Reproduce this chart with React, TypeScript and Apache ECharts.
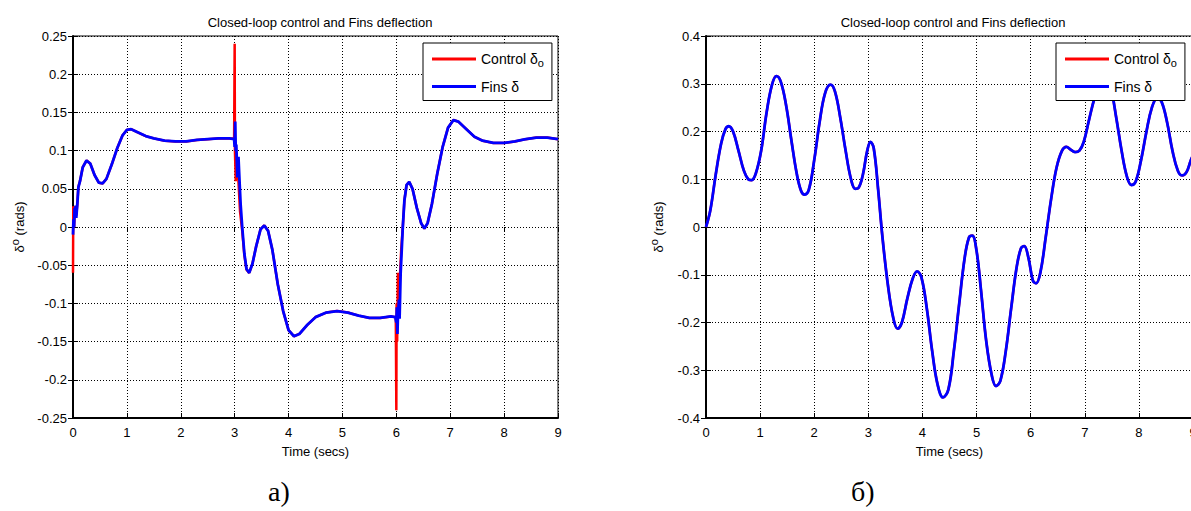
import React, { useEffect, useRef } from 'react';
import * as echarts from 'echarts';

// ---------- Data ----------
const titleText = 'Closed-loop control and Fins deflection';
const xTickValues = [0, 1, 2, 3, 4, 5, 6, 7, 8, 9];

// Panel a) Fins δ (blue)
const tFinsA = [0.0, 0.01, 0.02, 0.03, 0.04, 0.05, 0.06, 0.08, 0.1, 0.13, 0.18, 0.25, 0.32, 0.4, 0.48, 0.55, 0.62, 0.72, 0.82, 0.92, 1.0, 1.08, 1.2, 1.35, 1.5, 1.7, 1.9, 2.1, 2.3, 2.5, 2.7, 2.9, 2.99, 3.0, 3.01, 3.02, 3.03, 3.05, 3.07, 3.09, 3.11, 3.14, 3.18, 3.22, 3.27, 3.33, 3.4, 3.48, 3.55, 3.62, 3.7, 3.8, 3.9, 4.0, 4.1, 4.2, 4.35, 4.5, 4.7, 4.9, 5.1, 5.3, 5.5, 5.7, 5.9, 5.98, 6.0, 6.01, 6.02, 6.03, 6.05, 6.06, 6.07, 6.08, 6.1, 6.12, 6.15, 6.19, 6.24, 6.3, 6.38, 6.46, 6.52, 6.58, 6.66, 6.76, 6.86, 6.96, 7.06, 7.15, 7.3, 7.45, 7.6, 7.8, 8.0, 8.2, 8.4, 8.6, 8.8, 9.0];
const finsA = [-0.01, 0.01, 0.0, 0.025, 0.012, 0.028, 0.012, 0.03, 0.052, 0.06, 0.078, 0.087, 0.083, 0.068, 0.058, 0.057, 0.063, 0.082, 0.103, 0.12, 0.127, 0.128, 0.124, 0.119, 0.116, 0.113, 0.112, 0.112, 0.114, 0.115, 0.116, 0.116, 0.115, 0.105, 0.138, 0.1, 0.108, 0.065, 0.092, 0.06, 0.03, 0.0, -0.035, -0.055, -0.06, -0.048, -0.025, -0.003, 0.002, -0.005, -0.03, -0.075, -0.11, -0.135, -0.143, -0.14, -0.128, -0.118, -0.112, -0.11, -0.112, -0.116, -0.119, -0.119, -0.117, -0.118, -0.125, -0.105, -0.14, -0.115, -0.095, -0.12, -0.09, -0.06, -0.03, 0.0, 0.035, 0.055, 0.059, 0.05, 0.025, 0.005, -0.002, 0.005, 0.03, 0.07, 0.105, 0.13, 0.14, 0.138, 0.128, 0.118, 0.113, 0.11, 0.11, 0.112, 0.115, 0.117, 0.117, 0.115];

// Panel a) Control δo (red)
const tControlA = [0.0, 0.005, 0.02, 0.04, 0.06, 0.08, 0.1, 0.13, 0.18, 0.25, 0.32, 0.4, 0.48, 0.55, 0.62, 0.72, 0.82, 0.92, 1.0, 1.08, 1.2, 1.35, 1.5, 1.7, 1.9, 2.1, 2.3, 2.5, 2.7, 2.9, 2.99, 3.0, 3.005, 3.02, 3.05, 3.07, 3.1, 3.14, 3.18, 3.22, 3.27, 3.33, 3.4, 3.48, 3.55, 3.62, 3.7, 3.8, 3.9, 4.0, 4.1, 4.2, 4.35, 4.5, 4.7, 4.9, 5.1, 5.3, 5.5, 5.7, 5.9, 5.99, 6.0, 6.005, 6.015, 6.03, 6.05, 6.07, 6.09, 6.12, 6.15, 6.19, 6.24, 6.3, 6.38, 6.46, 6.52, 6.58, 6.66, 6.76, 6.86, 6.96, 7.06, 7.15, 7.3, 7.45, 7.6, 7.8, 8.0, 8.2, 8.4, 8.6, 8.8, 9.0];
const controlA = [-0.06, 0.027, 0.0, 0.027, 0.015, 0.03, 0.053, 0.06, 0.078, 0.087, 0.083, 0.068, 0.058, 0.057, 0.063, 0.082, 0.103, 0.12, 0.127, 0.128, 0.124, 0.119, 0.116, 0.113, 0.112, 0.112, 0.114, 0.115, 0.116, 0.116, 0.116, 0.24, 0.1, 0.06, 0.09, 0.06, 0.02, -0.005, -0.037, -0.056, -0.06, -0.048, -0.025, -0.003, 0.002, -0.005, -0.03, -0.075, -0.11, -0.135, -0.143, -0.14, -0.128, -0.118, -0.112, -0.11, -0.112, -0.116, -0.119, -0.119, -0.117, -0.118, -0.24, -0.1, -0.15, -0.06, -0.1, -0.06, -0.03, 0.0, 0.035, 0.055, 0.059, 0.05, 0.025, 0.005, -0.002, 0.005, 0.03, 0.07, 0.105, 0.13, 0.14, 0.138, 0.128, 0.118, 0.113, 0.11, 0.11, 0.112, 0.115, 0.117, 0.117, 0.115];

// Panel б) (Control δo and Fins δ coincide)
const tB = [0.0, 0.08, 0.18, 0.28, 0.36, 0.42, 0.5, 0.6, 0.7, 0.78, 0.84, 0.92, 1.02, 1.12, 1.22, 1.3, 1.38, 1.48, 1.58, 1.68, 1.76, 1.82, 1.9, 2.0, 2.1, 2.2, 2.3, 2.38, 2.48, 2.58, 2.68, 2.76, 2.82, 2.9, 2.98, 3.04, 3.1, 3.18, 3.26, 3.36, 3.46, 3.54, 3.62, 3.72, 3.82, 3.9, 3.98, 4.08, 4.18, 4.28, 4.38, 4.48, 4.58, 4.68, 4.78, 4.86, 4.92, 5.0, 5.08, 5.18, 5.28, 5.36, 5.44, 5.54, 5.64, 5.74, 5.82, 5.88, 5.96, 6.04, 6.1, 6.18, 6.28, 6.38, 6.48, 6.58, 6.66, 6.74, 6.82, 6.9, 6.98, 7.08, 7.18, 7.28, 7.38, 7.48, 7.58, 7.68, 7.78, 7.86, 7.94, 8.04, 8.14, 8.24, 8.34, 8.42, 8.52, 8.62, 8.72, 8.8, 8.88, 8.96, 9.0];
const finsB = [0.0, 0.035, 0.11, 0.175, 0.205, 0.211, 0.2, 0.16, 0.118, 0.1, 0.098, 0.112, 0.16, 0.24, 0.298, 0.316, 0.305, 0.255, 0.18, 0.11, 0.075, 0.068, 0.078, 0.14, 0.22, 0.28, 0.298, 0.285, 0.23, 0.16, 0.1, 0.08, 0.082, 0.11, 0.16, 0.178, 0.165, 0.08, -0.02, -0.12, -0.19, -0.213, -0.2, -0.15, -0.108, -0.093, -0.105, -0.17, -0.26, -0.33, -0.357, -0.34, -0.26, -0.16, -0.065, -0.022, -0.018, -0.05, -0.13, -0.24, -0.31, -0.333, -0.322, -0.26, -0.17, -0.085, -0.045, -0.04, -0.065, -0.112, -0.118, -0.095, -0.02, 0.06, 0.125, 0.16, 0.168, 0.162, 0.157, 0.16, 0.178, 0.225, 0.27, 0.3, 0.31, 0.29, 0.23, 0.16, 0.105, 0.088, 0.095, 0.14, 0.2, 0.25, 0.27, 0.262, 0.22, 0.16, 0.118, 0.108, 0.115, 0.14, 0.15];
const controlB = [0.0, 0.035, 0.11, 0.175, 0.205, 0.211, 0.2, 0.16, 0.118, 0.1, 0.098, 0.112, 0.16, 0.24, 0.298, 0.316, 0.305, 0.255, 0.18, 0.11, 0.075, 0.068, 0.078, 0.14, 0.22, 0.28, 0.298, 0.285, 0.23, 0.16, 0.1, 0.08, 0.082, 0.11, 0.16, 0.178, 0.165, 0.08, -0.02, -0.12, -0.19, -0.213, -0.2, -0.15, -0.108, -0.093, -0.105, -0.17, -0.26, -0.33, -0.357, -0.34, -0.26, -0.16, -0.065, -0.022, -0.018, -0.05, -0.13, -0.24, -0.31, -0.333, -0.322, -0.26, -0.17, -0.085, -0.045, -0.04, -0.065, -0.112, -0.118, -0.095, -0.02, 0.06, 0.125, 0.16, 0.168, 0.162, 0.157, 0.16, 0.178, 0.225, 0.27, 0.3, 0.31, 0.29, 0.23, 0.16, 0.105, 0.088, 0.095, 0.14, 0.2, 0.25, 0.27, 0.262, 0.22, 0.16, 0.118, 0.108, 0.115, 0.14, 0.15];

const yRangeA = { min: -0.25, max: 0.25, interval: 0.05 };
const yRangeB = { min: -0.4, max: 0.4, interval: 0.1 };

const zip = (t: number[], v: number[]) => t.map((x, i) => [x, v[i]]);

const FONT = '"Liberation Sans", Arial, sans-serif';
const SERIF = '"Liberation Serif", "Times New Roman", serif';

export default function App() {
  const ref = useRef<HTMLDivElement>(null);
  useEffect(() => {
    if (!ref.current) return;
    const chart = echarts.init(ref.current, undefined, { renderer: 'svg' });

    const grids = [
      { left: 73, top: 36, width: 485, height: 382 },
      { left: 706, top: 36, width: 487, height: 382 },
    ].map((g) => ({ ...g, show: true, borderColor: '#000', borderWidth: 1, backgroundColor: '#fff' }));

    const fmt = (v: number) => String(parseFloat(Number(v).toFixed(2)));

    const xBottom = (gridIndex: number) => ({
      type: 'value', gridIndex, min: xTickValues[0], max: xTickValues[xTickValues.length - 1], interval: 1,
      name: 'Time (secs)', nameLocation: 'middle', nameGap: 27,
      nameTextStyle: { fontFamily: FONT, fontSize: 13, color: '#000' },
      axisLine: { show: true, onZero: false, lineStyle: { color: '#000', width: 2 } },
      axisTick: { show: true, inside: true, length: 5, lineStyle: { color: '#000' } },
      axisLabel: { fontFamily: FONT, fontSize: 13, color: '#000', margin: 8, formatter: fmt },
      splitLine: { show: true, lineStyle: { color: '#000', type: [1, 2], width: 1 } },
    });
    const xTop = (gridIndex: number) => ({
      type: 'value', gridIndex, position: 'top', min: 0, max: 9, interval: 1,
      axisLine: { show: false }, axisLabel: { show: false }, splitLine: { show: false },
      axisTick: { show: true, inside: true, length: 5, lineStyle: { color: '#000' } },
    });
    const yLeft = (gridIndex: number, r: any, gap: number) => ({
      type: 'value', gridIndex, ...r,
      name: 'δ{sup|o} (rads)', nameLocation: 'middle', nameGap: gap,
      nameTextStyle: { fontFamily: FONT, fontSize: 13, color: '#000', rich: { sup: { fontFamily: FONT, fontSize: 11, color: '#000', padding: [0, 0, 9, 0] } } },
      axisLine: { show: true, onZero: false, lineStyle: { color: '#000', width: 2 } },
      axisTick: { show: true, inside: true, length: 5, lineStyle: { color: '#000' } },
      axisLabel: { fontFamily: FONT, fontSize: 13, color: '#000', margin: 6, formatter: fmt },
      splitLine: { show: true, lineStyle: { color: '#000', type: [1, 2], width: 1 } },
    });
    const yRight = (gridIndex: number, r: any) => ({
      type: 'value', gridIndex, position: 'right', ...r,
      axisLine: { show: false }, axisLabel: { show: false }, splitLine: { show: false },
      axisTick: { show: true, inside: true, length: 5, lineStyle: { color: '#000' } },
    });

    const legendBase = {
      orient: 'vertical', top: 43,
      backgroundColor: '#fff', borderColor: '#000', borderWidth: 1, borderRadius: 0,
      padding: [9, 8, 7, 9], itemGap: 11, itemWidth: 44, itemHeight: 3,
      icon: 'rect',
      data: ['Control', 'Fins'],
      selectedMode: false,
      formatter: (name: string) => (name === 'Control' ? 'Control δ{sub|o}' : 'Fins δ'),
      textStyle: { fontFamily: FONT, fontSize: 14, color: '#000', padding: [0, 0, 0, 0], rich: { sub: { fontFamily: FONT, fontSize: 11, color: '#000', padding: [8, 0, 0, 0] } } },
    };

    const red = { color: '#ff0000', width: 2.5 };
    const blue = { color: '#0000ff', width: 2.8 };

    chart.setOption({
      animation: false,
      backgroundColor: '#fff',
      title: [
        { text: titleText, left: 315, top: 11, textAlign: 'center', textStyle: { fontFamily: FONT, fontSize: 13, fontWeight: 'normal', color: '#000' } },
        { text: titleText, left: 948, top: 11, textAlign: 'center', textStyle: { fontFamily: FONT, fontSize: 13, fontWeight: 'normal', color: '#000' } },
      ],
      grid: grids,
      xAxis: [xBottom(0), xTop(0), xBottom(1), xTop(1)],
      yAxis: [yLeft(0, yRangeA, 44), yRight(0, yRangeA), yLeft(1, yRangeB, 38), yRight(1, yRangeB)],
      legend: [
        { ...legendBase, left: 423, itemStyle: {} },
        { ...legendBase, left: 1056 },
      ],
      series: [
        { name: 'Control', type: 'line', xAxisIndex: 0, yAxisIndex: 0, data: zip(tControlA, controlA), symbol: 'none', lineStyle: red, itemStyle: { color: red.color }, z: 2 },
        { name: 'Fins', type: 'line', xAxisIndex: 0, yAxisIndex: 0, data: zip(tFinsA, finsA), symbol: 'none', lineStyle: blue, itemStyle: { color: blue.color }, z: 3 },
        { name: 'Control', type: 'line', xAxisIndex: 2, yAxisIndex: 2, data: zip(tB, controlB), symbol: 'none', smooth: 0.4, lineStyle: red, itemStyle: { color: red.color }, z: 2 },
        { name: 'Fins', type: 'line', xAxisIndex: 2, yAxisIndex: 2, data: zip(tB, finsB), symbol: 'none', smooth: 0.4, lineStyle: blue, itemStyle: { color: blue.color }, z: 3 },
      ],
      graphic: [
        { type: 'text', left: 268, top: 477, style: { text: 'а)', font: `28px ${SERIF}`, fill: '#000' } },
        { type: 'text', left: 851, top: 477, style: { text: 'б)', font: `28px ${SERIF}`, fill: '#000' } },
      ],
    });
    return () => chart.dispose();
  }, []);

  return (
    <div style={{ position: 'fixed', left: 0, top: 0, width: 1191, height: 511, overflow: 'hidden', background: '#fff' }}>
      <div ref={ref} style={{ width: 1200, height: 511 }} />
    </div>
  );
}
